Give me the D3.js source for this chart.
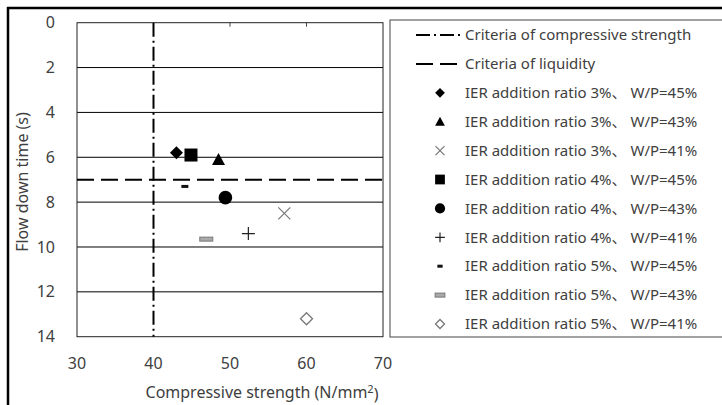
<!DOCTYPE html>
<html><head><meta charset="utf-8">
<script src="https://cdn.jsdelivr.net/npm/d3@7"></script>
<style>body{margin:0;background:#fff;}svg{display:block;}</style>
</head><body>
<svg id="c" width="722" height="405"></svg>
<script>
// ---- data ----
const xTicks = [30, 40, 50, 60, 70];
const yTicks = [0, 2, 4, 6, 8, 10, 12, 14];
const seriesNames = [
  "IER addition ratio 3%、 W/P=45%",
  "IER addition ratio 3%、 W/P=43%",
  "IER addition ratio 3%、 W/P=41%",
  "IER addition ratio 4%、 W/P=45%",
  "IER addition ratio 4%、 W/P=43%",
  "IER addition ratio 4%、 W/P=41%",
  "IER addition ratio 5%、 W/P=45%",
  "IER addition ratio 5%、 W/P=43%",
  "IER addition ratio 5%、 W/P=41%"
];
const seriesMarkers = ["diamondFill","triangle","cross","square","circle","plus","dash","bar","diamondOpen"];
const strengthValues = [43.0, 48.5, 57.1, 44.9, 49.4, 52.4, 44.1, 46.9, 60.0];
const flowValues = [5.8, 6.1, 8.5, 5.9, 7.8, 9.4, 7.3, 9.65, 13.2];
const criteriaStrength = 40;
const criteriaLiquidity = 7;
const lineLegend = ["Criteria of compressive strength", "Criteria of liquidity"];

const svg = d3.select("#c");
const font = "'Noto Sans','Noto Sans CJK JP',sans-serif";
const txt = "#404040";

const L = 77, R = 383, T = 22.7, B = 336.7;
const x = d3.scaleLinear().domain([30, 70]).range([L, R]);
const y = d3.scaleLinear().domain([0, 14]).range([T, B]);

// outer frame
svg.append("line").attr("x1", 7).attr("x2", 722).attr("y1", 8).attr("y2", 8).attr("stroke", "#000").attr("stroke-width", 2.5);
svg.append("line").attr("x1", 8).attr("x2", 8).attr("y1", 7).attr("y2", 405).attr("stroke", "#000").attr("stroke-width", 2.5);

// gridlines
svg.append("g").selectAll("line").data(yTicks.filter(d => d > 0 && d < 14)).join("line")
  .attr("x1", L).attr("x2", R).attr("y1", d => y(d)).attr("y2", d => y(d))
  .attr("stroke", "#000").attr("stroke-width", 1);

// plot border
svg.append("rect").attr("x", L).attr("y", T).attr("width", R - L).attr("height", B - T)
  .attr("fill", "none").attr("stroke", "#222").attr("stroke-width", 1);

// top tick marks
svg.append("g").selectAll("line").data(xTicks.slice(1, -1)).join("line")
  .attr("x1", d => x(d)).attr("x2", d => x(d)).attr("y1", T).attr("y2", T + 4)
  .attr("stroke", "#444").attr("stroke-width", 1);

// tick labels
svg.append("g").selectAll("text").data(yTicks).join("text")
  .attr("x", 55).attr("y", d => y(d)).attr("dy", "0.35em").attr("text-anchor", "end")
  .attr("font-family", font).attr("font-size", 16).attr("fill", txt).text(d => d);
svg.append("g").selectAll("text").data(xTicks).join("text")
  .attr("x", d => x(d)).attr("y", 363).attr("dy", "0.35em").attr("text-anchor", "middle")
  .attr("font-family", font).attr("font-size", 16).attr("fill", txt).text(d => d);

// axis titles
const xt = svg.append("text").attr("x", 262).attr("y", 392).attr("dy", "0.35em").attr("text-anchor", "middle")
  .attr("font-family", font).attr("font-size", 16).attr("fill", txt);
xt.append("tspan").text("Compressive strength (N/mm");
xt.append("tspan").attr("dy", "-0.4em").attr("font-size", 11).text("2");
xt.append("tspan").attr("dy", "0.4em").text(")");
svg.append("text").attr("transform", "translate(22,182) rotate(-90)").attr("dy", "0.35em").attr("text-anchor", "middle")
  .attr("font-family", font).attr("font-size", 16).attr("fill", txt).text("Flow down time (s)");

// criteria lines
svg.append("line").attr("x1", x(criteriaStrength)).attr("x2", x(criteriaStrength)).attr("y1", T).attr("y2", B)
  .attr("stroke", "#000").attr("stroke-width", 2).attr("stroke-dasharray", "14,4,2,4");
svg.append("line").attr("x1", L).attr("x2", R).attr("y1", y(criteriaLiquidity)).attr("y2", y(criteriaLiquidity))
  .attr("stroke", "#000").attr("stroke-width", 2).attr("stroke-dasharray", "17,7");

// marker drawer
function marker(g, type, k) {
  switch (type) {
    case "diamondFill":
      g.append("path").attr("d", `M0,${-6.5*k}L${6.5*k},0L0,${6.5*k}L${-6.5*k},0Z`).attr("fill", "#000"); break;
    case "triangle":
      g.append("path").attr("d", `M0,${-6.5*k}L${6.5*k},${5.5*k}L${-6.5*k},${5.5*k}Z`).attr("fill", "#000"); break;
    case "square":
      g.append("rect").attr("x", -6.5 * k).attr("y", -6.5 * k).attr("width", 13 * k).attr("height", 13 * k).attr("fill", "#000"); break;
    case "circle":
      g.append("circle").attr("r", 6.8 * k).attr("fill", "#000"); break;
    case "cross":
      g.append("path").attr("d", `M${-6*k},${-6*k}L${6*k},${6*k}M${6*k},${-6*k}L${-6*k},${6*k}`).attr("stroke", "#777").attr("stroke-width", 1.2); break;
    case "plus":
      g.append("path").attr("d", `M${-6.5*k},0L${6.5*k},0M0,${-6.5*k}L0,${6.5*k}`).attr("stroke", "#222").attr("stroke-width", 1.2); break;
    case "dash":
      g.append("rect").attr("x", -3.5 * k).attr("y", -1.5).attr("width", 7 * k).attr("height", 3).attr("fill", "#111"); break;
    case "bar":
      g.append("rect").attr("x", -6.5 * k).attr("y", -2).attr("width", 13 * k).attr("height", 4).attr("fill", "#aaa").attr("stroke", "#777").attr("stroke-width", 1); break;
    case "diamondOpen":
      g.append("path").attr("d", `M0,${-6*k}L${6*k},0L0,${6*k}L${-6*k},0Z`).attr("fill", "none").attr("stroke", "#777").attr("stroke-width", 1.3); break;
  }
}

// points
seriesNames.forEach((n, i) => {
  const g = svg.append("g").attr("transform", `translate(${x(strengthValues[i])},${y(flowValues[i])})`);
  marker(g, seriesMarkers[i], 1);
});

// legend
svg.append("rect").attr("x", 390).attr("y", 20).attr("width", 340).attr("height", 317)
  .attr("fill", "none").attr("stroke", "#444").attr("stroke-width", 1);
const rowY = i => 35 + i * 28.9;
const lg = svg.append("g");
lg.append("line").attr("x1", 416).attr("x2", 461).attr("y1", rowY(0)).attr("y2", rowY(0))
  .attr("stroke", "#000").attr("stroke-width", 2).attr("stroke-dasharray", "14,4,2,4");
lg.append("line").attr("x1", 416).attr("x2", 461).attr("y1", rowY(1)).attr("y2", rowY(1))
  .attr("stroke", "#000").attr("stroke-width", 2).attr("stroke-dasharray", "17,7");
lineLegend.forEach((t, i) => {
  lg.append("text").attr("x", 465).attr("y", rowY(i)).attr("dy", "0.35em")
    .attr("font-family", font).attr("font-size", 15).attr("fill", txt).text(t);
});
seriesNames.forEach((t, i) => {
  const g = lg.append("g").attr("transform", `translate(440,${rowY(i + 2)})`);
  marker(g, seriesMarkers[i], 0.75);
  lg.append("text").attr("x", 465).attr("y", rowY(i + 2)).attr("dy", "0.35em")
    .attr("font-family", font).attr("font-size", 15).attr("fill", txt).text(t);
});
</script>
</body></html>
